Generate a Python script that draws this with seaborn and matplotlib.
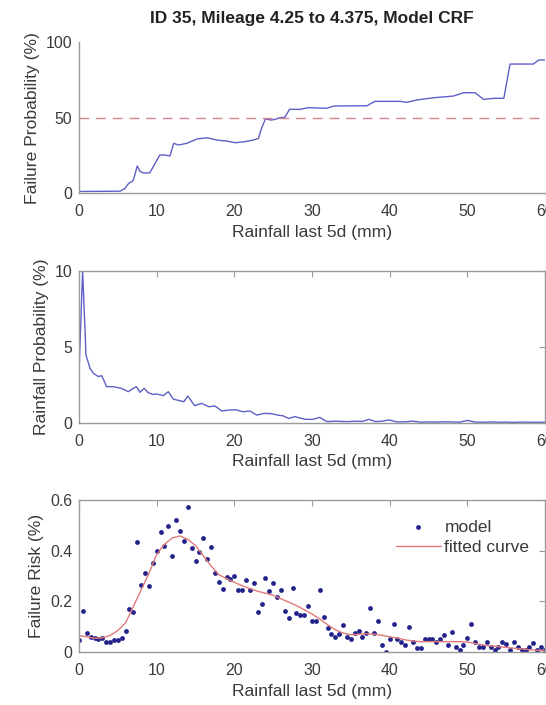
import numpy as np
import pandas as pd
import matplotlib
matplotlib.use("Agg")
import matplotlib.pyplot as plt
import seaborn as sns

# ---------------- data ----------------
title = "ID 35, Mileage 4.25 to 4.375, Model CRF"
xlabel = "Rainfall last 5d (mm)"
ylabels = ["Failure Probability (%)", "Rainfall Probability (%)", "Failure Risk (%)"]
x_ticks = [0, 10, 20, 30, 40, 50, 60]

# Panel 1: failure probability
fp_x = [0, 5.3, 5.9, 6.4, 6.8, 7.0, 7.5, 7.9, 8.3, 9.1, 9.8, 10.4, 11.0, 11.7, 12.2,
        12.8, 13.9, 14.7, 15.2, 16.5, 17.7, 19.0, 20.1, 21.2, 22.5, 23.1, 23.5, 24.0,
        24.8, 25.4, 25.9, 26.5, 27.1, 28.5, 29.5, 31.9, 32.8, 37.1, 38.1, 41.4, 42.2,
        43.5, 45.7, 48.2, 49.5, 51.0, 52.1, 53.4, 54.7, 55.5, 58.5, 59.2, 60.0]
fp_y = [1.0, 1.2, 3.0, 6.4, 7.5, 8.6, 17.9, 14.1, 13.3, 13.3, 19.6, 25.2, 25.2, 24.5, 32.9,
        31.8, 32.9, 34.7, 35.8, 36.6, 35.1, 34.4, 33.3, 33.9, 35.1, 36.2, 42.8, 49.0,
        48.3, 49.0, 49.9, 50.1, 55.4, 55.4, 56.5, 56.1, 57.6, 57.8, 60.7, 60.7, 60.0,
        61.6, 63.1, 64.2, 66.4, 66.4, 62.0, 62.7, 62.7, 85.4, 85.4, 88.1, 88.1]
threshold = 50

# Panel 2: rainfall probability
rp_x = [0, 0.47, 0.9, 1.42, 1.85, 2.5, 2.9, 3.1, 3.55, 4.4, 5.45, 5.7, 6.35, 6.8, 7.4,
        7.85, 8.4, 8.9, 9.5, 10.0, 10.85, 11.5, 12.15, 13.5, 14.0, 14.9, 15.8, 16.7,
        17.5, 18.4, 19.3, 20.2, 21.1, 22.0, 22.9, 23.8, 24.7, 25.6, 26.3, 27.0, 27.8,
        28.5, 29.2, 30.1, 31.0, 31.9, 33.0, 34.6, 35.5, 36.5, 37.3, 38.2, 39.0, 39.9,
        41, 42, 43, 44, 45, 46, 47, 48, 49, 50, 51, 52, 53, 54, 55, 56, 57, 58, 59, 60]
rp_y = [3.3, 10.0, 4.45, 3.58, 3.25, 3.03, 3.1, 2.9, 2.37, 2.37, 2.26, 2.2, 2.04, 2.2, 2.37,
        2.0, 2.26, 1.98, 1.86, 1.89, 1.78, 2.04, 1.55, 1.38, 1.75, 1.12, 1.27, 1.05,
        1.1, 0.77, 0.83, 0.85, 0.72, 0.77, 0.5, 0.61, 0.6, 0.5, 0.45, 0.28, 0.4,
        0.3, 0.22, 0.22, 0.35, 0.07, 0.1, 0.07, 0.1, 0.08, 0.22, 0.07, 0.1, 0.18,
        0.05, 0.06, 0.1, 0.03, 0.05, 0.04, 0.06, 0.05, 0.03, 0.15, 0.04, 0.03, 0.05, 0.03,
        0.04, 0.02, 0.04, 0.03, 0.03, 0.03]

# Panel 3: failure risk (model points every 0.5 mm)
risk_x = [i * 0.5 for i in range(121)]
risk_y = [0.047, 0.163, 0.076, 0.060, 0.056, 0.052, 0.056, 0.041, 0.041, 0.047,
          0.047, 0.056, 0.083, 0.168, 0.159, 0.435, 0.264, 0.310, 0.260, 0.352,
          0.400, 0.472, 0.418, 0.499, 0.379, 0.521, 0.479, 0.439, 0.574, 0.412,
          0.359, 0.396, 0.449, 0.366, 0.416, 0.310, 0.278, 0.247, 0.295, 0.287,
          0.300, 0.245, 0.245, 0.283, 0.245, 0.274, 0.159, 0.188, 0.293, 0.242,
          0.271, 0.218, 0.245, 0.161, 0.136, 0.254, 0.155, 0.145, 0.145, 0.182,
          0.124, 0.124, 0.245, 0.137, 0.093, 0.071, 0.060, 0.071, 0.107, 0.060,
          0.050, 0.074, 0.084, 0.060, 0.074, 0.175, 0.076, 0.124, 0.028, 0.001,
          0.050, 0.110, 0.050, 0.041, 0.028, 0.100, 0.041, 0.015, 0.015, 0.050,
          0.050, 0.050, 0.041, 0.052, 0.067, 0.028, 0.080, 0.020, 0.008, 0.028,
          0.056, 0.109, 0.041, 0.020, 0.020, 0.041, 0.020, 0.008, 0.020, 0.041,
          0.030, 0.008, 0.038, 0.020, 0.008, 0.008, 0.020, 0.036, 0.008, 0.020,
          0.008]
fit_x = list(range(61))
fit_y = [0.065, 0.060, 0.054, 0.056, 0.065, 0.085, 0.115, 0.180, 0.245, 0.310,
         0.385, 0.425, 0.450, 0.458, 0.445, 0.420, 0.380, 0.340, 0.305, 0.290,
         0.275, 0.262, 0.250, 0.240, 0.232, 0.224, 0.210, 0.197, 0.183, 0.167,
         0.150, 0.130, 0.108, 0.088, 0.075, 0.068, 0.070, 0.072, 0.070, 0.066,
         0.060, 0.055, 0.048, 0.043, 0.041, 0.041, 0.041, 0.041, 0.041, 0.041,
         0.039, 0.034, 0.028, 0.024, 0.021, 0.018, 0.015, 0.012, 0.009, 0.007,
         0.005]
risk_ticks = [0, 0.2, 0.4, 0.6]
risk_ticklabels = ["0", "0.2", "0.4", "0.6"]

# ---------------- style ----------------
sns.set_style("white")
plt.rcParams["font.family"] = ["Liberation Sans", "DejaVu Sans"]

line_blue = "#5f5fc8"
dash_red = "#d6848e"
dot_blue = "#22228a"
fit_red = "#e07a7a"
spine_gray = "#9a9a9a"
text_gray = "#3a3a3a"
tick_fs = 11.4
label_fs = 12.6

W, H = 546, 705
fig = plt.figure(figsize=(W / 100, H / 100), dpi=100, facecolor="white")

left = 79 / W
width = 466 / W
ax1 = fig.add_axes([left, 1 - 193 / H, width, 151 / H])
ax2 = fig.add_axes([left, 1 - 422.7 / H, width, 152 / H])
ax3 = fig.add_axes([left, 1 - 652 / H, width, 152 / H])

# panel 1
sns.lineplot(x=fp_x, y=fp_y, ax=ax1, color=line_blue, linewidth=1.0, estimator=None)
ax1.axhline(threshold, color=dash_red, linewidth=1.0, dashes=(7, 5))
ax1.set_ylim(0, 100)
ax1.set_yticks([0, 50, 100])

# panel 2
sns.lineplot(x=rp_x, y=rp_y, ax=ax2, color=line_blue, linewidth=1.0, estimator=None)
ax2.set_ylim(0, 10)
ax2.set_yticks([0, 5, 10])

# panel 3
sns.scatterplot(x=risk_x, y=risk_y, ax=ax3, color=dot_blue, s=12, linewidth=0,
                label="model")
sns.lineplot(x=fit_x, y=fit_y, ax=ax3, color=fit_red, linewidth=1.0, estimator=None,
             label="fitted curve")
ax3.set_ylim(0, 0.6)
ax3.set_yticks(risk_ticks)
ax3.set_yticklabels(risk_ticklabels)
leg = ax3.legend(loc="upper right", bbox_to_anchor=(1.0, 0.975), frameon=False,
                 fontsize=12.5, handlelength=2.6, handletextpad=0.2,
                 labelspacing=0.3, markerscale=1.0)
for t in leg.get_texts():
    t.set_color(text_gray)

for i, ax in enumerate([ax1, ax2, ax3]):
    ax.set_facecolor("white")
    ax.set_xlim(0, 60)
    ax.set_xticks(x_ticks)
    ax.set_xlabel(xlabel, fontsize=label_fs, color=text_gray, labelpad=4)
    ax.set_ylabel(ylabels[i], fontsize=label_fs, color=text_gray, labelpad=4)
    boxed = i > 0
    ax.tick_params(direction="in", length=4, width=0.8, color=spine_gray,
                   labelsize=tick_fs, labelcolor=text_gray, top=boxed, right=boxed)
    ax.tick_params(axis="x", pad=8)
    ax.tick_params(axis="y", pad=5)
    for name, sp in ax.spines.items():
        sp.set_color(spine_gray)
        sp.set_linewidth(1.0)
        if not boxed and name in ("top", "right"):
            sp.set_visible(False)
        else:
            sp.set_visible(True)

ax1.set_title(title, fontsize=12.5, fontweight="bold", color="#222222", pad=14)

fig.savefig("out.png", dpi=100, facecolor=fig.get_facecolor())
